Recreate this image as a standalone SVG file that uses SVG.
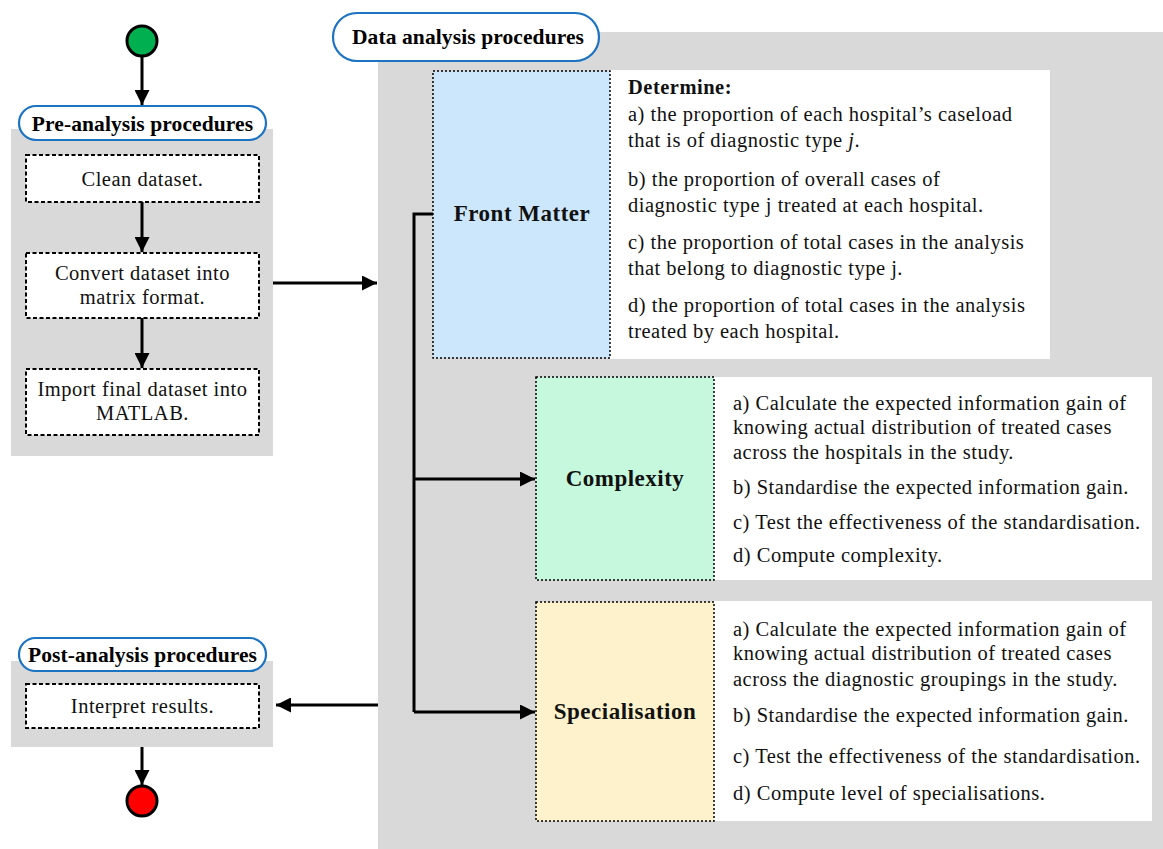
<svg xmlns="http://www.w3.org/2000/svg" width="1163" height="849" viewBox="0 0 1163 849">
  <style>
    .panel { fill: #d9d9d9; }
    .pill { fill: #ffffff; stroke: #1c73c2; stroke-width: 2.2; }
    .pill-text { font-family: "Liberation Serif", serif; font-weight: bold; font-size: 21.5px; letter-spacing: 0.1px; fill: #000; text-anchor: middle; }
    .step { fill: #ffffff; stroke: #000; stroke-width: 2; stroke-dasharray: 4 2.5; }
    .step-text { font-family: "Liberation Serif", serif; font-size: 20.5px; letter-spacing: 0.5px; fill: #111; text-anchor: middle; }
    .stage { stroke: #000; stroke-width: 1.5; stroke-dasharray: 2 2; }
    .stage-text { font-family: "Liberation Serif", serif; font-weight: bold; font-size: 23px; letter-spacing: 0.5px; fill: #111; text-anchor: middle; }
    .note { fill: #ffffff; }
    .note-text { font-family: "Liberation Serif", serif; font-size: 20.5px; letter-spacing: 0.5px; fill: #111; }
    .wire { fill: none; stroke: #000; stroke-width: 3; }
  </style>
  <defs>
    <marker id="arrow" viewBox="0 0 10 10" refX="10" refY="5" markerWidth="5" markerHeight="5" markerUnits="strokeWidth" orient="auto">
      <path d="M0,0 L10,5 L0,10 Z" fill="#000"/>
    </marker>
  </defs>

  <rect width="1163" height="849" fill="#ffffff"/>

  <!-- Start node -->
  <g id="start">
    <circle cx="142" cy="41" r="15" fill="#00b050" stroke="#000" stroke-width="3"/>
  </g>

  <!-- Pre-analysis group -->
  <g id="pre-analysis">
    <rect class="panel" x="11" y="129" width="262" height="327"/>
    <rect class="pill" x="19" y="106" width="247" height="34" rx="17"/>
    <text class="pill-text" x="142.5" y="131">Pre-analysis procedures</text>
  </g>
  <g id="clean">
    <rect class="step" x="26" y="155" width="233" height="47"/>
    <text class="step-text" x="142.5" y="186">Clean dataset.</text>
  </g>
  <g id="convert">
    <rect class="step" x="26" y="253" width="233" height="65"/>
    <text class="step-text" x="142.5" y="280">Convert dataset into</text>
    <text class="step-text" x="142.5" y="304">matrix format.</text>
  </g>
  <g id="import">
    <rect class="step" x="26" y="369" width="233" height="66"/>
    <text class="step-text" x="142.5" y="396">Import final dataset into</text>
    <text class="step-text" x="142.5" y="420">MATLAB.</text>
  </g>

  <!-- Data analysis group -->
  <g id="data-analysis">
    <rect class="panel" x="378" y="32" width="785" height="817"/>
    <rect class="pill" x="333" y="13" width="266" height="48" rx="24"/>
    <text class="pill-text" x="468" y="44">Data analysis procedures</text>
  </g>

  <g id="front-matter">
    <rect class="note" x="610" y="70" width="440" height="289"/>
    <rect class="stage" x="433" y="71" width="177" height="287" fill="#cce7fb"/>
    <text class="stage-text" x="522" y="221">Front Matter</text>
    <text class="note-text" x="628" y="94" font-weight="bold">Determine:</text>
    <text class="note-text" x="628" y="121">a) the proportion of each hospital’s caseload</text>
    <text class="note-text" x="628" y="147">that is of diagnostic type <tspan font-style="italic">j</tspan>.</text>
    <text class="note-text" x="628" y="186">b) the proportion of overall cases of</text>
    <text class="note-text" x="628" y="212">diagnostic type j treated at each hospital.</text>
    <text class="note-text" x="628" y="249">c) the proportion of total cases in the analysis</text>
    <text class="note-text" x="628" y="275">that belong to diagnostic type j.</text>
    <text class="note-text" x="628" y="312">d) the proportion of total cases in the analysis</text>
    <text class="note-text" x="628" y="338">treated by each hospital.</text>
  </g>

  <g id="complexity">
    <rect class="note" x="714" y="377" width="438" height="203"/>
    <rect class="stage" x="536" y="377" width="178" height="203" fill="#c5f8dd"/>
    <text class="stage-text" x="625" y="486">Complexity</text>
    <text class="note-text" x="733" y="410">a) Calculate the expected information gain of</text>
    <text class="note-text" x="733" y="434">knowing actual distribution of treated cases</text>
    <text class="note-text" x="733" y="459">across the hospitals in the study.</text>
    <text class="note-text" x="733" y="494">b) Standardise the expected information gain.</text>
    <text class="note-text" x="733" y="529">c) Test the effectiveness of the standardisation.</text>
    <text class="note-text" x="733" y="562">d) Compute complexity.</text>
  </g>

  <g id="specialisation">
    <rect class="note" x="714" y="601" width="438" height="220"/>
    <rect class="stage" x="536" y="602" width="178" height="219" fill="#fef2cc"/>
    <text class="stage-text" x="625" y="719">Specialisation</text>
    <text class="note-text" x="733" y="636">a) Calculate the expected information gain of</text>
    <text class="note-text" x="733" y="660">knowing actual distribution of treated cases</text>
    <text class="note-text" x="733" y="686">across the diagnostic groupings in the study.</text>
    <text class="note-text" x="733" y="722">b) Standardise the expected information gain.</text>
    <text class="note-text" x="733" y="763">c) Test the effectiveness of the standardisation.</text>
    <text class="note-text" x="733" y="800">d) Compute level of specialisations.</text>
  </g>

  <!-- Post-analysis group -->
  <g id="post-analysis">
    <rect class="panel" x="11" y="661" width="262" height="86"/>
    <rect class="pill" x="19" y="638" width="247" height="33" rx="16.5"/>
    <text class="pill-text" x="142.5" y="662">Post-analysis procedures</text>
  </g>
  <g id="interpret">
    <rect class="step" x="26" y="684" width="233" height="44"/>
    <text class="step-text" x="142.5" y="713">Interpret results.</text>
  </g>

  <!-- End node -->
  <g id="end">
    <circle cx="142" cy="801" r="15" fill="#ff0000" stroke="#000" stroke-width="3"/>
  </g>

  <!-- Connectors -->
  <g id="connectors">
    <line class="wire" x1="142" y1="57" x2="142" y2="105" marker-end="url(#arrow)"/>
    <line class="wire" x1="142" y1="202" x2="142" y2="252" marker-end="url(#arrow)"/>
    <line class="wire" x1="142" y1="318" x2="142" y2="368" marker-end="url(#arrow)"/>
    <line class="wire" x1="273" y1="283" x2="377" y2="283" marker-end="url(#arrow)"/>
    <polyline class="wire" points="433,214 414,214 414,712"/>
    <line class="wire" x1="414" y1="479" x2="535" y2="479" marker-end="url(#arrow)"/>
    <line class="wire" x1="414" y1="712" x2="535" y2="712" marker-end="url(#arrow)"/>
    <line class="wire" x1="378" y1="705" x2="276" y2="705" marker-end="url(#arrow)"/>
    <line class="wire" x1="142" y1="747" x2="142" y2="785" marker-end="url(#arrow)"/>
  </g>
</svg>
